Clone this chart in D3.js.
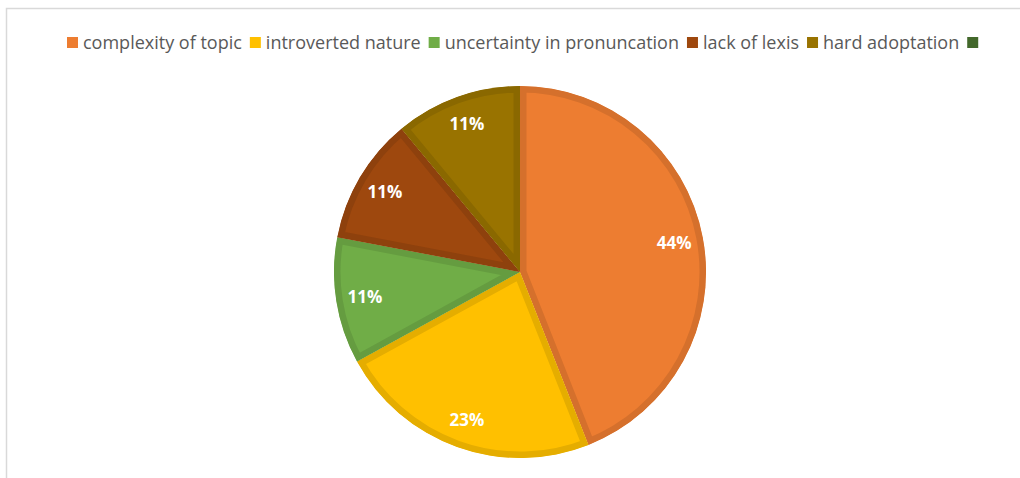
<!DOCTYPE html>
<html><head><meta charset="utf-8">
<script src="https://cdn.jsdelivr.net/npm/d3@7/dist/d3.min.js"></script>
<style>html,body{margin:0;padding:0;background:#fff;}svg{display:block;}</style>
</head><body>
<svg id="chart" width="1020" height="478"></svg>
<script>
const categories = ["complexity of topic","introverted nature","uncertainty in pronuncation","lack of lexis","hard adoptation",""];
const values = [44, 23, 11, 11, 11, 0];
const labels = ["44%","23%","11%","11%","11%",""];
const fillColors = ["#ED7D31","#FFC000","#70AD47","#9E480E","#997300","#43682B"];
const strokeColors = ["#D5702C","#E5AD00","#659C40","#8E410D","#8A6800","#3C5E27"];

const svg = d3.select("#chart");
const W = 1020, H = 478;

// chart frame
svg.append("rect").attr("x",6.5).attr("y",8.5).attr("width",W+20).attr("height",H+20)
  .attr("fill","#fff").attr("stroke","#d9d9d9").attr("stroke-width",1.5);

// legend
const legend = svg.append("g").attr("font-family","'Open Sans', sans-serif").attr("font-size",18).attr("fill","#595959");
let lx = 67;
const ly = 43;
categories.forEach((c,i)=>{
  legend.append("rect").attr("x",lx).attr("y",ly-6).attr("width",11).attr("height",11).attr("fill",fillColors[i]);
  lx += 16;
  if (c) {
    const t = legend.append("text").attr("x",lx).attr("y",ly+5.5).text(c);
    lx += t.node().getComputedTextLength() + 8;
  }
});

// pie
const cx = 520, cy = 272, r = 186;
const pie = d3.pie().sort(null).value(d=>d).startAngle(0).endAngle(2*Math.PI);
const arcs = pie(values);
const arc = d3.arc().innerRadius(0).outerRadius(r);
const g = svg.append("g").attr("transform",`translate(${cx},${cy})`);
const defs = svg.append("defs");
arcs.forEach((a,i)=>{
  if (a.value <= 0) return;
  defs.append("clipPath").attr("id","clip"+i).append("path").attr("d",arc(a));
  g.append("path").attr("d",arc(a)).attr("fill",fillColors[i])
    .attr("stroke",strokeColors[i]).attr("stroke-width",13).attr("stroke-linejoin","miter")
    .attr("clip-path",`url(#clip${i})`);
});
const labelArc = d3.arc().innerRadius(157).outerRadius(157);
arcs.forEach((a,i)=>{
  if (a.value <= 0) return;
  const [x,y] = labelArc.centroid(a);
  g.append("text").attr("x",x).attr("y",y).attr("dy","0.35em").attr("text-anchor","middle")
    .attr("font-family","'Open Sans', sans-serif").attr("font-weight","bold").attr("font-size",17)
    .attr("fill","#fff").text(labels[i]);
});
</script>
</body></html>
